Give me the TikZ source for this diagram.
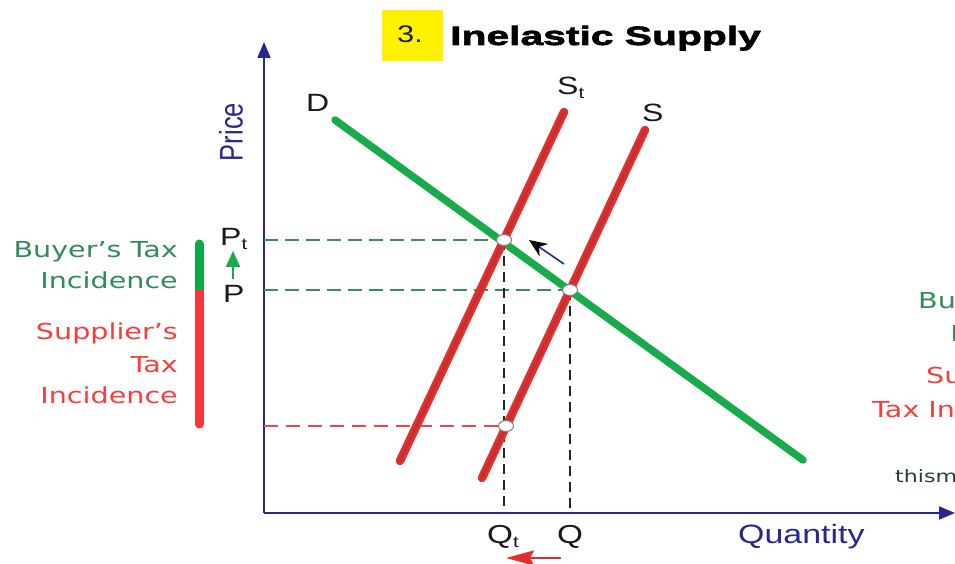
\documentclass[tikz,border=0pt]{standalone}
\usepackage{fontspec}
\setmainfont[FakeStretch=1.28]{Liberation Sans}
\newfontfamily\plainfont{Liberation Sans}
\newfontfamily\titlefont[FakeStretch=1.54,FakeBold=2.5]{Liberation Sans Bold}
\newfontfamily\lblfont[FakeStretch=1.3]{DejaVu Sans}
\usetikzlibrary{arrows.meta,shapes.geometric}
\definecolor{axisblue}{RGB}{40,40,140}
\definecolor{dgreen}{RGB}{25,170,75}
\definecolor{sred}{RGB}{232,45,45}
\definecolor{score}{RGB}{190,50,50}
\definecolor{gdashc}{RGB}{60,140,100}
\definecolor{rdashc}{RGB}{240,70,70}
\definecolor{buyc}{RGB}{50,140,90}
\definecolor{supc}{RGB}{250,60,60}
\definecolor{barg}{RGB}{10,170,70}
\definecolor{barr}{RGB}{250,55,55}
\definecolor{txtc}{RGB}{25,25,25}
\definecolor{wmark}{RGB}{40,60,60}
\tikzset{
  axisline/.style={draw=axisblue, line width=1.8pt},
  dline/.style={draw=dgreen, line width=7.5pt, line cap=round},
  sline/.style={draw=sred, line width=8.5pt, line cap=round},
  scoreline/.style={draw=score, line width=3pt, line cap=round},
  gdash/.style={draw=gdashc, line width=1.5pt, dash pattern=on 14pt off 7pt},
  rdash/.style={draw=rdashc, line width=1.2pt, dash pattern=on 14pt off 8pt},
  kdash/.style={draw=black!85, line width=1.8pt, dash pattern=on 10pt off 6pt},
  mk/.style={ellipse, draw=black!50, fill=white, line width=1pt, minimum width=15pt, minimum height=11pt, inner sep=0pt},
  lbl/.style={inner sep=0pt, text=txtc, font=\fontsize{25}{25}\selectfont},
  buy/.style={inner sep=0pt, text=buyc, font=\lblfont\fontsize{22}{22}\selectfont},
  sup/.style={inner sep=0pt, text=supc, font=\lblfont\fontsize{22}{22}\selectfont},
}
\begin{document}
\begin{tikzpicture}[x=1pt,y=-1pt]
\useasboundingbox (0,0) rectangle (955,564);
\fill[white] (0,0) rectangle (955,564);

% title
\node[fill=yellow, minimum width=61pt, minimum height=51pt, inner sep=0pt] (ybox) at (412.5,35.5) {};
\node[anchor=base west, inner sep=0pt, text=txtc] (num) at (397,43) {\fontsize{24}{24}\selectfont 3.};
\node[anchor=base west, inner sep=0pt, text=black] (title) at (450,45) {\titlefont\fontsize{26.5}{26.5}\selectfont Inelastic Supply};

% coordinates
\coordinate (O) at (264,513);
\coordinate (ytop) at (264,42);
\coordinate (xend) at (955,513);
\coordinate (dA) at (335,120);
\coordinate (dB) at (803,460);
\coordinate (stA) at (400,461);
\coordinate (stB) at (564,112);
\coordinate (sA) at (482,478);
\coordinate (sB) at (645,130);
\coordinate (E1) at (504,240);
\coordinate (E2) at (570,290);
\coordinate (E3) at (506,426);

% axes
\draw[axisline, -{Triangle[length=16pt,width=13pt]}] (O) -- (ytop);
\draw[axisline, -{Triangle[length=16pt,width=13pt]}] (O) -- (xend);

% dashed guides
\draw[gdash] (O |- E1) -- (E1);
\draw[gdash] (O |- E2) -- (E2);
\draw[rdash] (O |- E3) -- (E3);
\draw[kdash] (E1) -- (E1 |- O);
\draw[kdash] (E2) -- (E2 |- O);

% curves
\draw[dline] (dA) -- (dB);
\draw[sline] (stA) -- (stB);
\draw[scoreline] (stA) -- (stB);
\draw[sline] (sA) -- (sB);
\draw[scoreline] (sA) -- (sB);

% equilibrium markers
\node[mk] (m1) at (E1) {};
\node[mk] (m2) at (E2) {};
\node[mk] (m3) at (E3) {};

% shift arrow
\coordinate (ba1) at (564,264);
\coordinate (ba2) at (529,240);
\draw[draw=axisblue, line width=1.6pt, -{Stealth[length=18pt,width=15pt,black]}] (ba1) -- (ba2);

% quantity arrow
\coordinate (ra1) at (561,558);
\coordinate (ra2) at (506,558);
\draw[draw=sred, line width=2.2pt, -{Stealth[length=28pt,width=15pt,inset=4pt]}] (ra1) -- (ra2);

% price arrow
\coordinate (ga1) at (233,279);
\coordinate (ga2) at (233,251);
\draw[draw=dgreen, line width=2.2pt, -{Triangle[length=16pt,width=14pt]}] (ga1) -- (ga2);

% incidence bar
\draw[draw=barg, line width=9pt, line cap=round] (199,244) -- (199,290);
\draw[draw=barr, line width=9pt, line cap=round] (199,300) -- (199,424);
\draw[draw=barr, line width=9pt] (199,290) -- (199,300);

% labels
\node[lbl, anchor=base west] (Pt) at (220,245) {P\raisebox{-4pt}{\fontsize{16}{16}\selectfont t}};
\node[lbl, anchor=base west] (P) at (223,302) {P};
\node[lbl, anchor=base west] (Dl) at (306,112) {D};
\node[lbl, anchor=base west] (Stl) at (557,95) {S\raisebox{-4pt}{\fontsize{16}{16}\selectfont t}};
\node[lbl, anchor=base west] (Sl) at (642,122) {S};
\node[lbl, anchor=base west, font=\fontsize{26}{26}\selectfont] (Qtl) at (487,543) {Q\raisebox{-4pt}{\fontsize{16}{16}\selectfont t}};
\node[lbl, anchor=base west, font=\fontsize{26}{26}\selectfont] (Ql) at (557,543) {Q};
\node[inner sep=0pt, anchor=base west, text=axisblue] (qty) at (738,543) {\fontsize{26.5}{26.5}\selectfont Quantity};
\node[inner sep=0pt, rotate=90, text=axisblue] (price) at (231,132) {\scalebox{1}[1.28]{\plainfont\fontsize{25.5}{25.5}\selectfont Price}};

% left incidence texts
\node[buy, anchor=base east] (b1) at (178,257) {Buyer’s Tax};
\node[buy, anchor=base east] (b2) at (178,288) {Incidence};
\node[sup, anchor=base east] (s1) at (178,339) {Supplier’s};
\node[sup, anchor=base east] (s2) at (178,372) {Tax};
\node[sup, anchor=base east] (s3) at (178,403) {Incidence};

% right cut-off texts (cut by the picture's edge, as in the reference)
\begin{scope}
\clip (0,0) rectangle (955,564);
\node[buy, anchor=base west] (rb1) at (918,308) {Buyer’s Tax};
\node[buy, anchor=base east] (rb2) at (1088,341) {Incidence};
\node[sup, anchor=base west] (rs1) at (926,383) {Supplier’s};
\node[sup, anchor=base west] (rs2) at (872,417) {Tax Incidence};
\node[inner sep=0pt, anchor=base west, text=wmark] (wm) at (895,482) {\lblfont\fontsize{17}{17}\selectfont thismatter.com};
\end{scope}
\end{tikzpicture}
\end{document}
